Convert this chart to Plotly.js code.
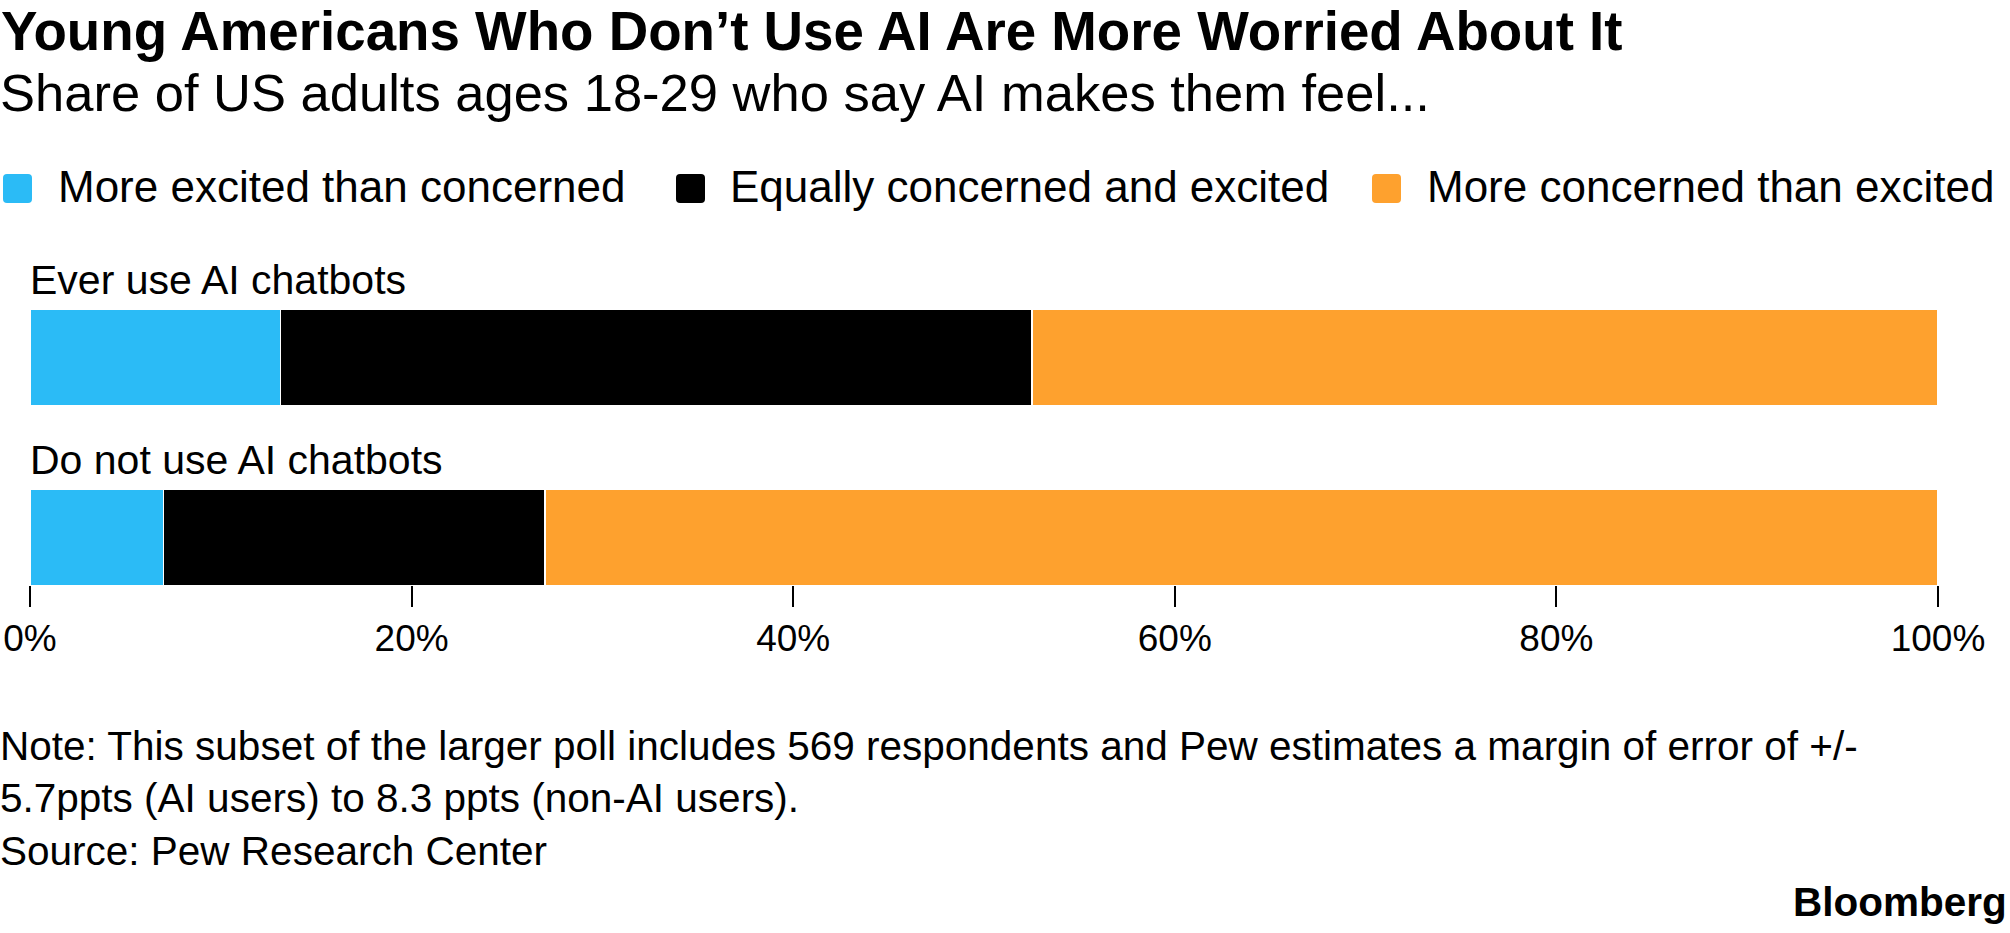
<!DOCTYPE html>
<html>
<head>
<meta charset="utf-8">
<script src="https://cdn.plot.ly/plotly-3.0.1.min.js"></script>
<style>
  html, body { margin: 0; padding: 0; background: #ffffff; }
  #chart { width: 2010px; height: 933px; }
</style>
</head>
<body>
<div id="chart"></div>
<script>
// ---- Data ----
const categories = ["Ever use AI chatbots", "Do not use AI chatbots"];
const seriesNames = ["More excited than concerned", "Equally concerned and excited", "More concerned than excited"];
const moreExcited = [13, 7];
const equallyBoth = [39, 20];
const moreConcerned = [47, 73];
const seriesColors = ["#2BBBF6", "#000000", "#FEA12E"];
const tickValues = [0, 20, 40, 60, 80, 100];
const tickLabels = ["0%", "20%", "40%", "60%", "80%", "100%"];

const titleText = "Young Americans Who Don\u2019t Use AI Are More Worried About It";
const subtitleText = "Share of US adults ages 18-29 who say AI makes them feel...";
const noteLines = [
  "Note: This subset of the larger poll includes 569 respondents and Pew estimates a margin of error of +/-",
  "5.7ppts (AI users) to 8.3 ppts (non-AI users).",
  "Source: Pew Research Center"
];
const brandText = "Bloomberg";

// ---- Layout geometry ----
const W = 2010, H = 933;
const M = { l: 30, r: 72, t: 250, b: 348 };
const PW = W - M.l - M.r, PH = H - M.t - M.b;
const px = x => (x - M.l) / PW;           // pixel -> paper x
const py = y => (H - M.b - y) / PH;       // pixel -> paper y
const FONT = "Liberation Sans, Arial, Helvetica, sans-serif";

const seriesValues = [moreExcited, equallyBoth, moreConcerned];
const traces = seriesValues.map((vals, i) => ({
  type: "bar",
  orientation: "h",
  name: seriesNames[i],
  x: vals,
  y: categories,
  width: 0.54,
  marker: { color: seriesColors[i], line: { color: "#ffffff", width: 1.5 } },
  hoverinfo: "skip",
  showlegend: false
}));

const annotations = [];
const shapes = [];

function txt(text, x, y, size, opts) {
  annotations.push(Object.assign({
    text: text, xref: "paper", yref: "paper", x: px(x), y: py(y),
    xanchor: "left", yanchor: "middle", showarrow: false,
    font: { family: FONT, size: size, color: "#000000" }, borderpad: 0
  }, opts || {}));
}

// Title & subtitle
txt("<b>" + titleText + "</b>", 0, 31, 54.7);
txt(subtitleText, -1, 92, 52.5);

// Legend (manual: rounded squares + labels)
const legSquareX = [17.5, 690.5, 1386.5];
const legTextX = [57, 729, 1426];
const r = 4, s = 14.5;
const sq = `M${-s + r},${-s} L${s - r},${-s} Q${s},${-s} ${s},${-s + r} L${s},${s - r} Q${s},${s} ${s - r},${s} L${-s + r},${s} Q${-s},${s} ${-s},${s - r} L${-s},${-s + r} Q${-s},${-s} ${-s + r},${-s} Z`;
seriesNames.forEach((name, i) => {
  shapes.push({
    type: "path", xref: "paper", yref: "paper",
    xsizemode: "pixel", ysizemode: "pixel",
    xanchor: px(legSquareX[i]), yanchor: py(188.5),
    path: sq, fillcolor: seriesColors[i], line: { width: 0 }
  });
  txt(name, legTextX[i], 186, 44);
});

// Category labels above each bar
categories.forEach((c, i) => {
  annotations.push({
    text: c, xref: "x", yref: "y", x: 0, y: c,
    xanchor: "left", yanchor: "middle", yshift: 77, xshift: -1,
    showarrow: false, borderpad: 0,
    font: { family: FONT, size: 41, color: "#000000" }
  });
});

// Notes
const noteY = [746, 798, 851];
noteLines.forEach((t, i) => txt(t, -1, noteY[i], 40.5));

// Brand
txt("<b>" + brandText + "</b>", 2008, 902, 40.5, { xanchor: "right" });

const layout = {
  width: W, height: H,
  margin: M,
  paper_bgcolor: "#ffffff",
  plot_bgcolor: "#ffffff",
  barmode: "stack",
  barnorm: "percent",
  showlegend: false,
  font: { family: FONT, color: "#000000" },
  xaxis: {
    range: [0, 100],
    tickmode: "array",
    tickvals: tickValues,
    ticktext: tickLabels,
    ticks: "outside",
    ticklen: 21,
    tickwidth: 2,
    tickcolor: "#000000",
    showgrid: false,
    zeroline: false,
    showline: false,
    tickfont: { family: FONT, size: 37, color: "#000000" },
    fixedrange: true
  },
  yaxis: {
    type: "category",
    categoryorder: "array",
    categoryarray: categories,
    range: [1.264, -0.597],
    showticklabels: false,
    ticks: "",
    showgrid: false,
    zeroline: false,
    showline: false,
    fixedrange: true
  },
  annotations: annotations,
  shapes: shapes
};

Plotly.newPlot("chart", traces, layout, { displayModeBar: false, staticPlot: true });
</script>
</body>
</html>
